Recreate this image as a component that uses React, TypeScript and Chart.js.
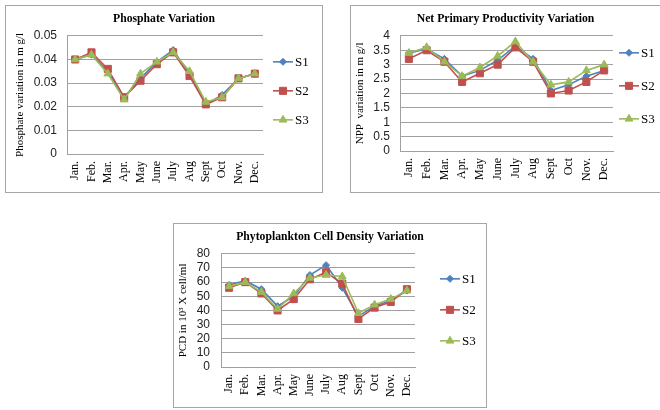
import React, { useEffect, useRef } from 'react';
import { Chart, registerables } from 'chart.js';

Chart.register(...registerables);

// ---------- data ----------
const months = ['Jan.', 'Feb.', 'Mar.', 'Apr.', 'May', 'June', 'July', 'Aug', 'Sept', 'Oct', 'Nov.', 'Dec.'];
const seriesNames = ['S1', 'S2', 'S3'];

const phosphateS1 = [0.040, 0.042, 0.035, 0.024, 0.032, 0.039, 0.044, 0.034, 0.021, 0.025, 0.032, 0.034];
const phosphateS2 = [0.040, 0.043, 0.036, 0.024, 0.031, 0.038, 0.043, 0.033, 0.021, 0.024, 0.032, 0.034];
const phosphateS3 = [0.040, 0.042, 0.034, 0.023, 0.034, 0.039, 0.043, 0.035, 0.022, 0.024, 0.032, 0.034];

const nppS1 = [3.4, 3.55, 3.2, 2.6, 2.8, 3.15, 3.65, 3.2, 2.1, 2.3, 2.6, 2.8];
const nppS2 = [3.2, 3.5, 3.1, 2.4, 2.7, 3.0, 3.6, 3.1, 2.0, 2.1, 2.4, 2.8];
const nppS3 = [3.4, 3.6, 3.1, 2.6, 2.9, 3.3, 3.8, 3.1, 2.3, 2.4, 2.8, 3.0];

const pcdS1 = [58, 61, 55, 43, 50, 65, 72, 56, 36, 43, 47, 54];
const pcdS2 = [56, 60, 52, 40, 48, 62, 67, 59, 34, 42, 46, 55];
const pcdS3 = [57, 60, 53, 41, 52, 63, 65, 64, 38, 44, 48, 54];

const phosphateTicks = ['0', '0.01', '0.02', '0.03', '0.04', '0.05'];
const nppTicks = ['0', '0.5', '1', '1.5', '2', '2.5', '3', '3.5', '4'];
const pcdTicks = ['0', '10', '20', '30', '40', '50', '60', '70', '80'];

// ---------- styles ----------
const SERIES_STYLE = [
  { color: '#4F81BD', pointStyle: 'rectRot', radius: 3.5, order: 3 },
  { color: '#C0504D', pointStyle: 'rect', radius: 5, order: 2 },
  { color: '#9BBB59', pointStyle: 'triangle', radius: 4.5, order: 1 },
];
const SERIF = "'Liberation Serif', 'Times New Roman', serif";
const SANS = "'Liberation Sans', Arial, sans-serif";
const GRID = '#a0a0a0';

function drawMarker(ctx: CanvasRenderingContext2D, style: string, x: number, y: number, r: number) {
  ctx.beginPath();
  if (style === 'rect') {
    const s = Math.SQRT1_2 * r;
    ctx.rect(x - s, y - s, 2 * s, 2 * s);
  } else if (style === 'rectRot') {
    ctx.moveTo(x, y - r);
    ctx.lineTo(x + r, y);
    ctx.lineTo(x, y + r);
    ctx.lineTo(x - r, y);
    ctx.closePath();
  } else {
    let rad = 0;
    ctx.moveTo(x + Math.sin(rad) * r, y - Math.cos(rad) * r);
    rad += (2 * Math.PI) / 3;
    ctx.lineTo(x + Math.sin(rad) * r, y - Math.cos(rad) * r);
    rad += (2 * Math.PI) / 3;
    ctx.lineTo(x + Math.sin(rad) * r, y - Math.cos(rad) * r);
    ctx.closePath();
  }
  ctx.fill();
  ctx.stroke();
}

const lineLegend = {
  id: 'lineLegend',
  afterDraw(chart: any, _args: any, opts: any) {
    const { ctx, chartArea } = chart;
    const x0 = chartArea.right + opts.dx;
    chart.data.datasets.forEach((ds: any, i: number) => {
      const y = chartArea.top + opts.y0 + i * opts.dy;
      ctx.save();
      ctx.strokeStyle = ds.borderColor;
      ctx.fillStyle = ds.borderColor;
      ctx.lineWidth = ds.borderWidth;
      ctx.beginPath();
      ctx.moveTo(x0, y);
      ctx.lineTo(x0 + 20, y);
      ctx.stroke();
      ctx.lineWidth = 1;
      drawMarker(ctx, ds.pointStyle, x0 + 10, y, ds.pointRadius);
      ctx.fillStyle = '#000';
      ctx.font = `13px ${SERIF}`;
      ctx.textBaseline = 'middle';
      ctx.textAlign = 'left';
      ctx.fillText(ds.label, x0 + 22, y + 1);
      ctx.restore();
    });
  },
};

type PanelProps = {
  left: number; top: number; width: number; height: number; noRightBorder?: boolean;
  title: string; yTitle: string; series: number[][]; ticks: string[];
  yWidth: number; xHeight: number; padRight: number; yTitlePad: number; yTickPad: number;
  legend: { dx: number; y0: number; dy: number };
};

function Panel(p: PanelProps) {
  const ref = useRef<HTMLCanvasElement>(null);
  useEffect(() => {
    const canvas = ref.current!;
    const tickVals = p.ticks.map(Number);
    const yMax = tickVals[tickVals.length - 1];
    const yStep = tickVals[1] - tickVals[0];
    const chart = new Chart(canvas, {
      type: 'line',
      data: {
        labels: months,
        datasets: p.series.map((vals, i) => ({
          label: seriesNames[i],
          data: vals,
          yAxisID: 'y',
          borderColor: SERIES_STYLE[i].color,
          backgroundColor: SERIES_STYLE[i].color,
          pointBackgroundColor: SERIES_STYLE[i].color,
          pointBorderColor: SERIES_STYLE[i].color,
          pointStyle: SERIES_STYLE[i].pointStyle as any,
          pointRadius: SERIES_STYLE[i].radius,
          pointBorderWidth: 1,
          borderWidth: 1.6,
          tension: 0,
          order: SERIES_STYLE[i].order,
        })),
      },
      options: {
        animation: false,
        responsive: false,
        maintainAspectRatio: false,
        layout: { padding: 0 },
        plugins: {
          legend: { display: false },
          tooltip: { enabled: false },
          title: {
            display: true,
            text: p.title,
            color: '#000',
            font: { family: SERIF, size: 11.7, weight: 'bold' },
            padding: { top: 6.4, bottom: 9.4 },
          },
          lineLegend: p.legend,
        } as any,
        scales: {
          x: {
            offset: true,
            grid: { display: false, drawTicks: false },
            border: { display: true, color: GRID, width: 1 },
            ticks: {
              autoSkip: false,
              maxRotation: 90,
              minRotation: 90,
              padding: 7,
              color: '#000',
              font: { family: SERIF, size: 12 },
            },
            afterFit: (s: any) => { s.height = p.xHeight; },
          },
          y: {
            position: 'left',
            min: 0,
            max: yMax,
            grid: { color: GRID, lineWidth: 1, drawTicks: false },
            border: { display: true, color: GRID, width: 1 },
            ticks: {
              stepSize: yStep,
              autoSkip: false,
              padding: p.yTickPad,
              color: '#222',
              font: { family: SANS, size: 12 },
              callback: (v: any) => {
                const idx = tickVals.findIndex((t) => Math.abs(t - v) < yStep / 100);
                return idx >= 0 ? p.ticks[idx] : '';
              },
            },
            title: {
              display: true,
              text: p.yTitle,
              color: '#000',
              font: { family: SERIF, size: 11 },
              padding: { top: p.yTitlePad, bottom: 0 },
            },
            afterFit: (s: any) => { s.width = p.yWidth; },
          },
          // empty right-hand axis that only reserves room for the legend
          legendSpace: {
            type: 'linear',
            position: 'right',
            display: true,
            grid: { display: false, drawTicks: false },
            border: { display: false },
            ticks: { display: false },
            afterFit: (s: any) => { s.width = p.padRight; },
          },
        } as any,
      },
      plugins: [lineLegend as any],
    });
    return () => chart.destroy();
  }, []);

  const border = '1px solid #a6a6a6';
  return (
    <div
      style={{
        position: 'absolute',
        left: p.left,
        top: p.top,
        width: p.width - (p.noRightBorder ? 1 : 2),
        height: p.height - 2,
        borderTop: border,
        borderBottom: border,
        borderLeft: border,
        borderRight: p.noRightBorder ? 'none' : border,
        background: '#fff',
      }}
    >
      <canvas
        ref={ref}
        width={p.width - (p.noRightBorder ? 1 : 2)}
        height={p.height - 2}
        style={{ display: 'block' }}
      />
    </div>
  );
}

export default function App() {
  return (
    <div style={{ position: 'absolute', left: 0, top: 0, width: 660, height: 410, background: '#fff', overflow: 'hidden' }}>
      <Panel
        left={5} top={5} width={318} height={188}
        title="Phosphate Variation"
        yTitle="Phosphate variation in m g/l"
        series={[phosphateS1, phosphateS2, phosphateS3]}
        ticks={phosphateTicks}
        yWidth={61} xHeight={38} padRight={59} yTitlePad={7.4} yTickPad={10}
        legend={{ dx: 10, y0: 26, dy: 29 }}
      />
      <Panel
        left={350} top={5} width={310} height={188} noRightBorder
        title="Net Primary Productivity Variation"
        yTitle="NPP  variation in m g/l"
        series={[nppS1, nppS2, nppS3]}
        ticks={nppTicks}
        yWidth={49} xHeight={41} padRight={47} yTitlePad={2.4} yTickPad={10}
        legend={{ dx: 6, y0: 17, dy: 33 }}
      />
      <Panel
        left={173} top={223} width={314} height={185}
        title="Phytoplankton Cell Density Variation"
        yTitle="PCD in 10³ X cell/ml"
        series={[pcdS1, pcdS2, pcdS3]}
        ticks={pcdTicks}
        yWidth={47} xHeight={40} padRight={71} yTitlePad={2.4} yTickPad={11}
        legend={{ dx: 25, y0: 25, dy: 31 }}
      />
    </div>
  );
}
